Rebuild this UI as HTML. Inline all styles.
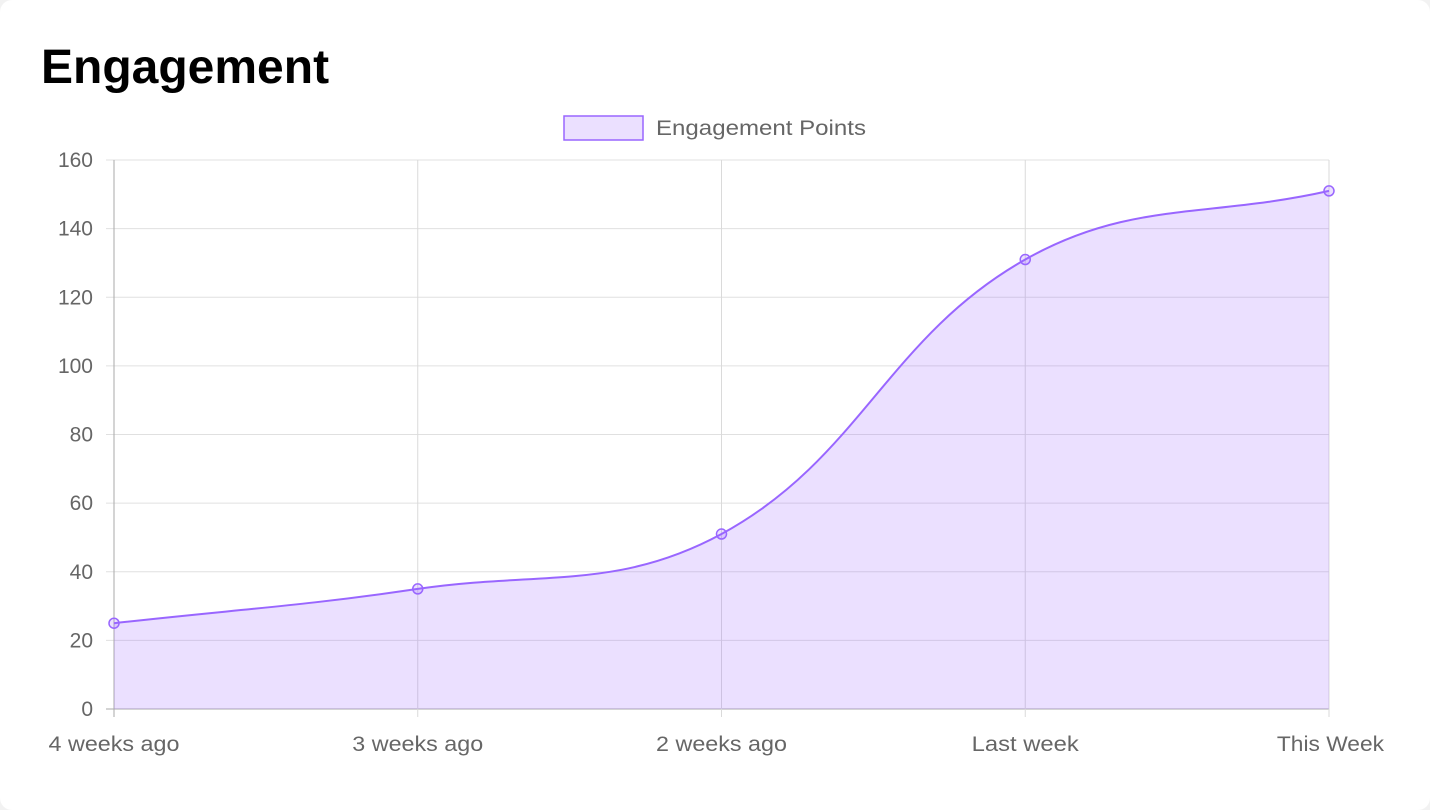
<!DOCTYPE html>
<html><head><meta charset="utf-8"><style>
html,body{margin:0;padding:0;width:1430px;height:810px;background:#f2f2f2;overflow:hidden}
.card{position:absolute;left:0;top:0;width:1430px;height:810px;background:#fff;border-radius:12px}
h1{position:absolute;left:41px;top:40px;margin:0;font:bold 48px "Liberation Sans",sans-serif;color:#000;line-height:56px}
svg{position:absolute;left:0;top:0}
text{font-family:"Liberation Sans",sans-serif;fill:#666;font-size:21px}
</style></head><body>
<div class="card">
<h1>Engagement</h1>
<svg id="c" width="1430" height="810"></svg>
</div>
<script>
const categories=["4 weeks ago","3 weeks ago","2 weeks ago","Last week","This Week"];
const values=[25,35,51,131,151];
const yTicks=[0,20,40,60,80,100,120,140,160];
const seriesName="Engagement Points";
const NS="http://www.w3.org/2000/svg";
const svg=document.getElementById('c');
const L=114,R=1329,T=160,B=709,YMAX=160;
const xs=i=>L+(R-L)*i/(categories.length-1);
const ys=v=>B-(B-T)*v/YMAX;
function el(t,a,p){const e=document.createElementNS(NS,t);for(const k in a)e.setAttribute(k,a[k]);(p||svg).appendChild(e);return e;}
function approxWidth(s){return s.length*11.9;}
yTicks.forEach(v=>{
 const g=el('line',{x1:L-8,x2:R,y1:ys(v),y2:ys(v),stroke:v===0?'#aaa':'#e0e0e0','stroke-width':1});
 
 
 const t=el('text',{x:L-21,y:ys(v)+7,'text-anchor':'end'});t.textContent=v;
 
 
});
categories.forEach((c,i)=>{
 const g=el('line',{x1:xs(i),x2:xs(i),y1:T,y2:B+8,stroke:i===0?'#aaa':'#dadada','stroke-width':1});
 
 
 const w=approxWidth(c);
 const last=i===categories.length-1;
 const t=el('text',{x:last?xs(i)+55:xs(i),y:751,'text-anchor':last?'end':'middle',textLength:w,lengthAdjust:'spacingAndGlyphs'});t.textContent=c;
 
 
});
const pts=values.map((v,i)=>({x:xs(i),y:ys(v)}));
const tension=0.4;const cps=[];
for(let i=0;i<pts.length;i++){
 const p=pts[Math.max(0,i-1)],c=pts[i],n=pts[Math.min(pts.length-1,i+1)];
 const d01=Math.hypot(c.x-p.x,c.y-p.y),d12=Math.hypot(n.x-c.x,n.y-c.y);
 let s01=d01/(d01+d12)||0,s12=d12/(d01+d12)||0;
 const fa=tension*s01,fb=tension*s12;
 cps.push({px:c.x-fa*(n.x-p.x),py:c.y-fa*(n.y-p.y),nx:c.x+fb*(n.x-p.x),ny:c.y+fb*(n.y-p.y)});
}
let d=`M${pts[0].x},${pts[0].y}`;
for(let i=1;i<pts.length;i++){
 const a=cps[i-1],b=cps[i];
 const c1x=Math.max(L,Math.min(R,a.nx)),c1y=Math.max(T,Math.min(B,a.ny));
 const c2x=Math.max(L,Math.min(R,b.px)),c2y=Math.max(T,Math.min(B,b.py));
 d+=` C${c1x},${c1y} ${c2x},${c2y} ${pts[i].x},${pts[i].y}`;
}
const area=el('path',{d:d+` L${R},${B} L${L},${B} Z`,fill:'rgba(153,102,255,0.2)',stroke:'none'});


const line=el('path',{d:d,fill:'none',stroke:'#9966ff','stroke-width':2});


pts.forEach(p=>{
 const c=el('circle',{cx:p.x,cy:p.y,r:5,fill:'rgba(153,102,255,0.2)',stroke:'#9966ff','stroke-width':1.5});
 
 
});
const lb=el('rect',{x:564,y:116,width:79,height:24,fill:'rgba(153,102,255,0.2)',stroke:'#9966ff','stroke-width':1.5});


const lt=el('text',{x:656,y:135,textLength:210,lengthAdjust:'spacingAndGlyphs'});lt.textContent=seriesName;


</script>
</body></html>
